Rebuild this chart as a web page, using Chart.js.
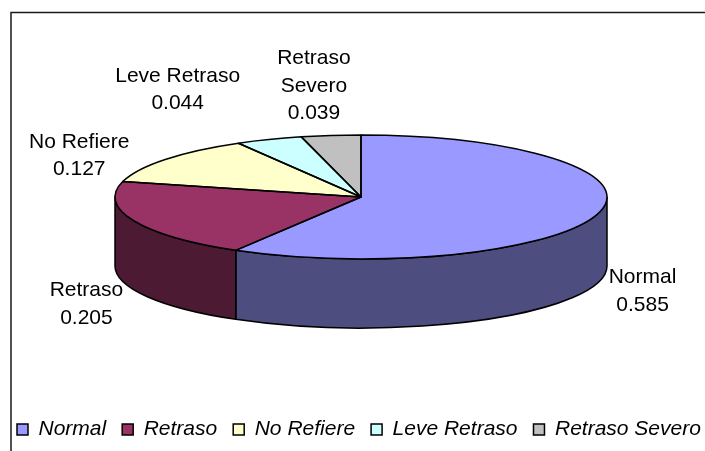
<!DOCTYPE html>
<html>
<head>
<meta charset="utf-8">
<script src="https://cdn.jsdelivr.net/npm/chart.js@4.4.1/dist/chart.umd.min.js"></script>
<style>
  html, body { margin: 0; padding: 0; background: #fff; overflow: hidden; }
  #wrap { position: relative; width: 740px; height: 460px; }
</style>
</head>
<body>
<div id="wrap"><canvas id="pastel"></canvas></div>
<script>
// Datos
const categories = ['Normal', 'Retraso', 'No Refiere', 'Leve Retraso', 'Retraso Severo'];
const shares = [0.585, 0.205, 0.127, 0.044, 0.039];
const topColors = ['#9999FF', '#993366', '#FFFFCC', '#CCFFFF', '#C0C0C0'];
const sideColors = ['#4D4D80', '#4D1A33', '#808066', '#668080', '#606060'];

// Geometría del pastel en perspectiva
const CX = 361, CY = 197, RX = 246, RY = 62, DEPTH = 69;
const FONT = '"Liberation Sans", Arial, sans-serif';
const LINE_H = 27.5;
// ajuste fino de cada etiqueta respecto a su ancla radial
const labelNudge = [[-3, 0], [-2, 2], [-47, 16], [-73, -19], [-11, -17]];

function wrapText(ctx, text, maxW) {
    if (ctx.measureText(text).width <= maxW) return [text];
    const out = [];
    let line = '';
    text.split(' ').forEach(w => {
        const t = line ? line + ' ' + w : w;
        if (line && ctx.measureText(t).width > maxW) { out.push(line); line = w; }
        else line = t;
    });
    if (line) out.push(line);
    return out;
}

const marco = {
    id: 'marco',
    beforeDraw(chart) {
        const ctx = chart.ctx;
        ctx.save();
        ctx.strokeStyle = '#1a1a1a';
        ctx.lineWidth = 1.5;
        ctx.strokeRect(11, 12.5, 1000, 1000);
        ctx.restore();
    }
};

const pastel3d = {
    id: 'pastel3d',
    beforeDatasetsDraw(chart) {
        const ctx = chart.ctx;
        const arcs = chart.getDatasetMeta(0).data;

        // 1. Paredes laterales (solo la mitad frontal)
        ctx.save();
        ctx.lineWidth = 1.5;
        ctx.strokeStyle = '#000';
        ctx.lineJoin = 'round';
        arcs.forEach((arc, i) => {
            const a1 = Math.max(arc.startAngle, 0);
            const a2 = Math.min(arc.endAngle, Math.PI);
            if (a2 <= a1) return;
            ctx.beginPath();
            ctx.ellipse(CX, CY, RX, RY, 0, a1, a2);
            ctx.lineTo(CX + RX * Math.cos(a2), CY + RY * Math.sin(a2) + DEPTH);
            ctx.ellipse(CX, CY + DEPTH, RX, RY, 0, a2, a1, true);
            ctx.closePath();
            ctx.fillStyle = sideColors[i];
            ctx.fill();
            ctx.stroke();
        });
        ctx.restore();

        // 2. Aplastar la cara superior que dibuja Chart.js
        const { x, y, outerRadius } = arcs[0];
        ctx.save();
        ctx.translate(CX, CY);
        ctx.scale(RX / outerRadius, RY / outerRadius);
        ctx.translate(-x, -y);
    },
    afterDatasetsDraw(chart) {
        const ctx = chart.ctx;
        ctx.restore();
        const arcs = chart.getDatasetMeta(0).data;

        // 3. Contornos de la cara superior
        ctx.save();
        ctx.lineWidth = 1.5;
        ctx.strokeStyle = '#000';
        ctx.lineJoin = 'round';
        arcs.forEach(arc => {
            ctx.beginPath();
            ctx.moveTo(CX, CY);
            ctx.lineTo(CX + RX * Math.cos(arc.startAngle), CY + RY * Math.sin(arc.startAngle));
            ctx.ellipse(CX, CY, RX, RY, 0, arc.startAngle, arc.endAngle);
            ctx.closePath();
            ctx.stroke();
        });

        // 4. Etiquetas con nombre y valor
        ctx.font = '21px ' + FONT;
        ctx.fillStyle = '#000';
        ctx.textAlign = 'center';
        ctx.textBaseline = 'middle';
        arcs.forEach((arc, i) => {
            const mid = (arc.startAngle + arc.endAngle) / 2;
            const s = Math.sin(mid);
            const ax = CX + 295 * Math.cos(mid) + labelNudge[i][0];
            const ay = CY + 95 * s + (s > 0 ? DEPTH : 0) + labelNudge[i][1];
            const lines = wrapText(ctx, categories[i], 135).concat(String(shares[i]));
            const y0 = ay - (lines.length - 1) * LINE_H / 2;
            lines.forEach((t, k) => ctx.fillText(t, ax, y0 + k * LINE_H));
        });
        ctx.restore();
    }
};

new Chart(document.getElementById('pastel'), {
    type: 'pie',
    data: {
        labels: categories,
        datasets: [{
            data: shares,
            backgroundColor: topColors,
            borderWidth: 0,
            clip: false
        }]
    },
    options: {
        responsive: true,
        maintainAspectRatio: false,
        animation: false,
        events: [],
        layout: { padding: { left: 1, bottom: 10 } },
        plugins: {
            tooltip: { enabled: false },
            legend: {
                position: 'bottom',
                align: 'start',
                labels: {
                    boxWidth: 11,
                    boxHeight: 11,
                    padding: 16,
                    color: '#000',
                    font: { family: FONT, size: 21, style: 'italic' },
                    generateLabels: chart => categories.map((c, i) => ({
                        text: c,
                        fillStyle: topColors[i],
                        strokeStyle: '#000',
                        lineWidth: 1.5,
                        index: i
                    }))
                }
            }
        }
    },
    plugins: [marco, pastel3d]
});
</script>
</body>
</html>
